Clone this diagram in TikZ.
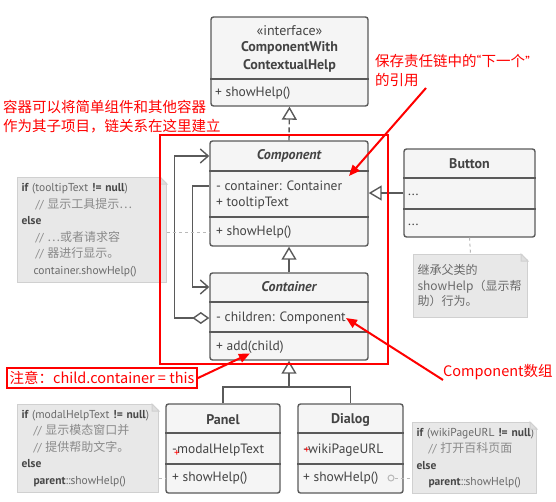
\documentclass[tikz,border=0pt]{standalone}
\usepackage{fontspec}
\setmainfont{PT Sans}
\newfontfamily\cjk{Noto Sans CJK SC}
\usetikzlibrary{arrows.meta}
\definecolor{umlline}{HTML}{5A5A5A}
\definecolor{umlfill}{HTML}{F5F5F5}
\definecolor{umltext}{HTML}{444444}
\definecolor{notefill}{HTML}{E8E8E8}
\definecolor{noteedge}{HTML}{D0D0D0}
\definecolor{notetext}{HTML}{6A6A6A}
\definecolor{notebold}{HTML}{474747}
\definecolor{notecmt}{HTML}{8A8A8A}
\definecolor{warnred}{HTML}{FF0000}
\newcommand\zh[1]{{\cjk\fontsize{12}{16}\selectfont #1}}
\newcommand\kw[1]{\textcolor{notebold}{\bfseries #1}}
\newcommand\cmt[1]{\textcolor{notecmt}{#1}}
\newcommand\latq[1]{{\normalfont #1}}
\tikzset{
  classbox/.style={draw=umlline, fill=umlfill, line width=1.4pt, rounded corners=2.5pt, inner sep=0pt},
  splitline/.style={draw=umlline, line width=1.4pt},
  classname/.style={text=umltext, align=center, inner sep=0pt, font=\fontsize{14}{18}\selectfont\bfseries},
  abstract/.style={classname, font=\fontsize{14}{18}\selectfont\bfseries\itshape},
  stereo/.style={text=umltext, inner sep=0pt, font=\fontsize{14}{18}\selectfont},
  member/.style={text=umltext, anchor=west, inner sep=0pt, font=\fontsize{13.5}{15}\selectfont},
  fixmark/.style={text=warnred, inner sep=0pt, font=\fontsize{11}{11}\selectfont},
  notebox/.style={fill=notefill, draw=noteedge, line width=1pt, inner xsep=4pt, inner ysep=0pt, align=left, anchor=north west, text=notetext, font=\fontsize{11.5}{16.5}\selectfont},
  inherit/.style={draw=umlline, line width=1.4pt, -{Triangle[open, length=13pt, width=15pt]}},
  realize/.style={inherit, dash pattern=on 5pt off 3pt},
  plainline/.style={draw=umlline, line width=1.4pt},
  aggregate/.style={draw=umlline, line width=1.4pt, {Diamond[length=17pt, width=12pt, fill=white]}-{Straight Barb[length=8pt, width=14pt]}},
  assoc/.style={draw=umlline, line width=1.4pt, -{Straight Barb[length=8pt, width=14pt]}},
  notelink/.style={draw=gray!55, line width=1pt, dash pattern=on 3pt off 3pt},
  redtext/.style={text=warnred, inner sep=0pt, align=left, font=\cjk\fontsize{14.5}{19}\selectfont},
  warn/.style={draw=warnred, line width=2pt},
  warnarrow/.style={warn, -{Triangle[length=11pt, width=9pt]}}
}
\begin{document}
\begin{tikzpicture}[x=1pt,y=-1pt]
\useasboundingbox (0,0) rectangle (556,501);
\node[classbox, minimum width=157, minimum height=89] (iface) at (289.5,61.5) {};
\node[classbox, minimum width=158, minimum height=105] (comp) at (289,193.5) {};
\node[classbox, minimum width=158, minimum height=87] (cont) at (289,316.5) {};
\node[classbox, minimum width=131, minimum height=88] (btn) at (469.5,193) {};
\node[classbox, minimum width=114, minimum height=89] (panel) at (223,448.5) {};
\node[classbox, minimum width=105, minimum height=89] (dialog) at (350.5,448.5) {};
\foreach \b/\y in {iface/79, comp/171, comp/217, cont/302, cont/332, btn/178, btn/209, panel/433, panel/464, dialog/433, dialog/464}
  \draw[splitline] (\b.west |- 0,\y) -- (\b.east |- 0,\y);

\node[stereo] (ifstereo) at (289.5,31) {«interface»};
\node[classname] (ifname) at (289.5,57) {ComponentWith\\ContextualHelp};
\node[member] (ifshow) at (215,93) {+ showHelp()};
\node[abstract] (compname) at (289,156) {Component};
\node[member] (compfield) at (216,186) {- container: Container};
\node[member] (comptip) at (216,203) {+ tooltipText};
\node[member] (compshow) at (216,232) {+ showHelp()};
\node[abstract] (contname) at (289,287) {Container};
\node[member] (contkids) at (216,318) {- children: Component};
\node[member] (contadd) at (216,347) {+ add(child)};
\node[classname] (btnname) at (469.5,164) {Button};
\node[member] (btnfield) at (408,195) {...};
\node[member] (btnmethod) at (408,225) {...};
\node[classname] (panelname) at (223,420) {Panel};
\node[member] (panelfield) at (172,450) {-modalHelpText};
\node[fixmark] (panelmark) at (177,453) {+};
\node[member] (panelshow) at (172,478) {+ showHelp()};
\node[classname] (dialogname) at (350.5,420) {Dialog};
\node[member] (dialogfield) at (303,450) {-wikiPageURL};
\node[fixmark] (dialogmark) at (307,450) {+};
\node[member] (dialogshow) at (303,478) {+ showHelp()};

\node[notebox, text width=141, minimum height=105] (tipnote) at (17,177) {\kw{if}~(tooltipText~\kw{!=~null})\\
  \hspace*{14pt}\cmt{// \zh{显示工具提示⋯}}\\
  \kw{else}\\
  \hspace*{14pt}\cmt{// \zh{⋯或者请求容}}\\
  \hspace*{14pt}\cmt{// \zh{器进行显示。}}\\
  \hspace*{12pt}container.showHelp()};
\node[notebox, text width=106, minimum height=63, font=\fontsize{10}{15.5}\selectfont] (btnnote) at (413,254) {\zh{继承父类的}\\\zh{showHelp（显示帮}\\\zh{助）行为。}};
\node[notebox, text width=133, minimum height=88] (panelnote) at (17,404) {\kw{if}~(modalHelpText~\kw{!=~null})\\
  \hspace*{12pt}\cmt{// \zh{显示模态窗口并}}\\
  \hspace*{12pt}\cmt{// \zh{提供帮助文字。}}\\
  \kw{else}\\
  \hspace*{12pt}\kw{parent}::showHelp()};
\node[notebox, text width=116, minimum height=71] (dlgnote) at (412,422) {\kw{if}~(wikiPageURL~\kw{!=~null})\\
  \hspace*{12pt}\cmt{// \zh{打开百科页面}}\\
  \kw{else}\\
  \hspace*{12pt}\kw{parent}::showHelp()};
% folded corners
\foreach \n in {tipnote, btnnote, panelnote, dlgnote} {
  \fill[white] (\n.north east) ++(-7,-1) -- ++(8,0) -- ++(0,8) -- cycle;
  \filldraw[fill=noteedge!70, draw=noteedge, line width=1pt] (\n.north east) ++(-7,0) -- ++(0,7) -- ++(7,0) -- cycle;
}

\draw[realize] (comp.north) -- (iface.south);
\draw[inherit] (cont.north) -- (comp.south);
\draw[inherit] (btn.west) -- (btn.west -| comp.east);
\coordinate (join) at (289,387);
\draw[plainline] (dialog.north) |- (join);
\draw[inherit] (panel.north) |- (join) -- (cont.south);
\draw[aggregate] (cont.west |- contkids) -- ++(-35,0) |- (comp.west |- compname);
\draw[assoc] (comp.west |- compfield) -- ++(-17,0) |- (cont.west |- contname);

\draw[notelink] (tipnote.east |- compshow) -- (comp.west |- compshow);
\draw[notelink] (btn.south) -- (btnnote.north);
\draw[notelink] (panelnote.east |- panelshow) -- (panel.west |- panelshow);
\node[circle, draw=gray!55, line width=1pt, inner sep=0pt, minimum size=6] (dialogdot) at (391,478) {};
\draw[notelink] (dialogdot) -- (dlgnote.west |- dialogdot);

\draw[warn] (160,135) rectangle (388,364);
\node[redtext, anchor=north west] (reftext) at (375,54) {保存责任链中的\latq{“}下一个\latq{”}\\的引用};
\coordinate (reftail) at (426,88);
\coordinate (reftip) at (349,176);
\draw[warnarrow] (reftail) -- (reftip);
\node[redtext, anchor=north west] (chaintext) at (3,100) {容器可以将简单组件和其他容器\\作为其子项目，链关系在这里建立};
\node[redtext, draw=warnred, line width=2pt, minimum width=190, minimum height=20] (setnote) at (102,378) {注意：child.container = this};
\draw[warnarrow] (setnote.east) -- (contadd.south);
\node[redtext, anchor=west] (kidstext) at (443,372) {Component数组};
\draw[warnarrow] (kidstext.south west) -- (contkids.east);
\end{tikzpicture}
\end{document}
